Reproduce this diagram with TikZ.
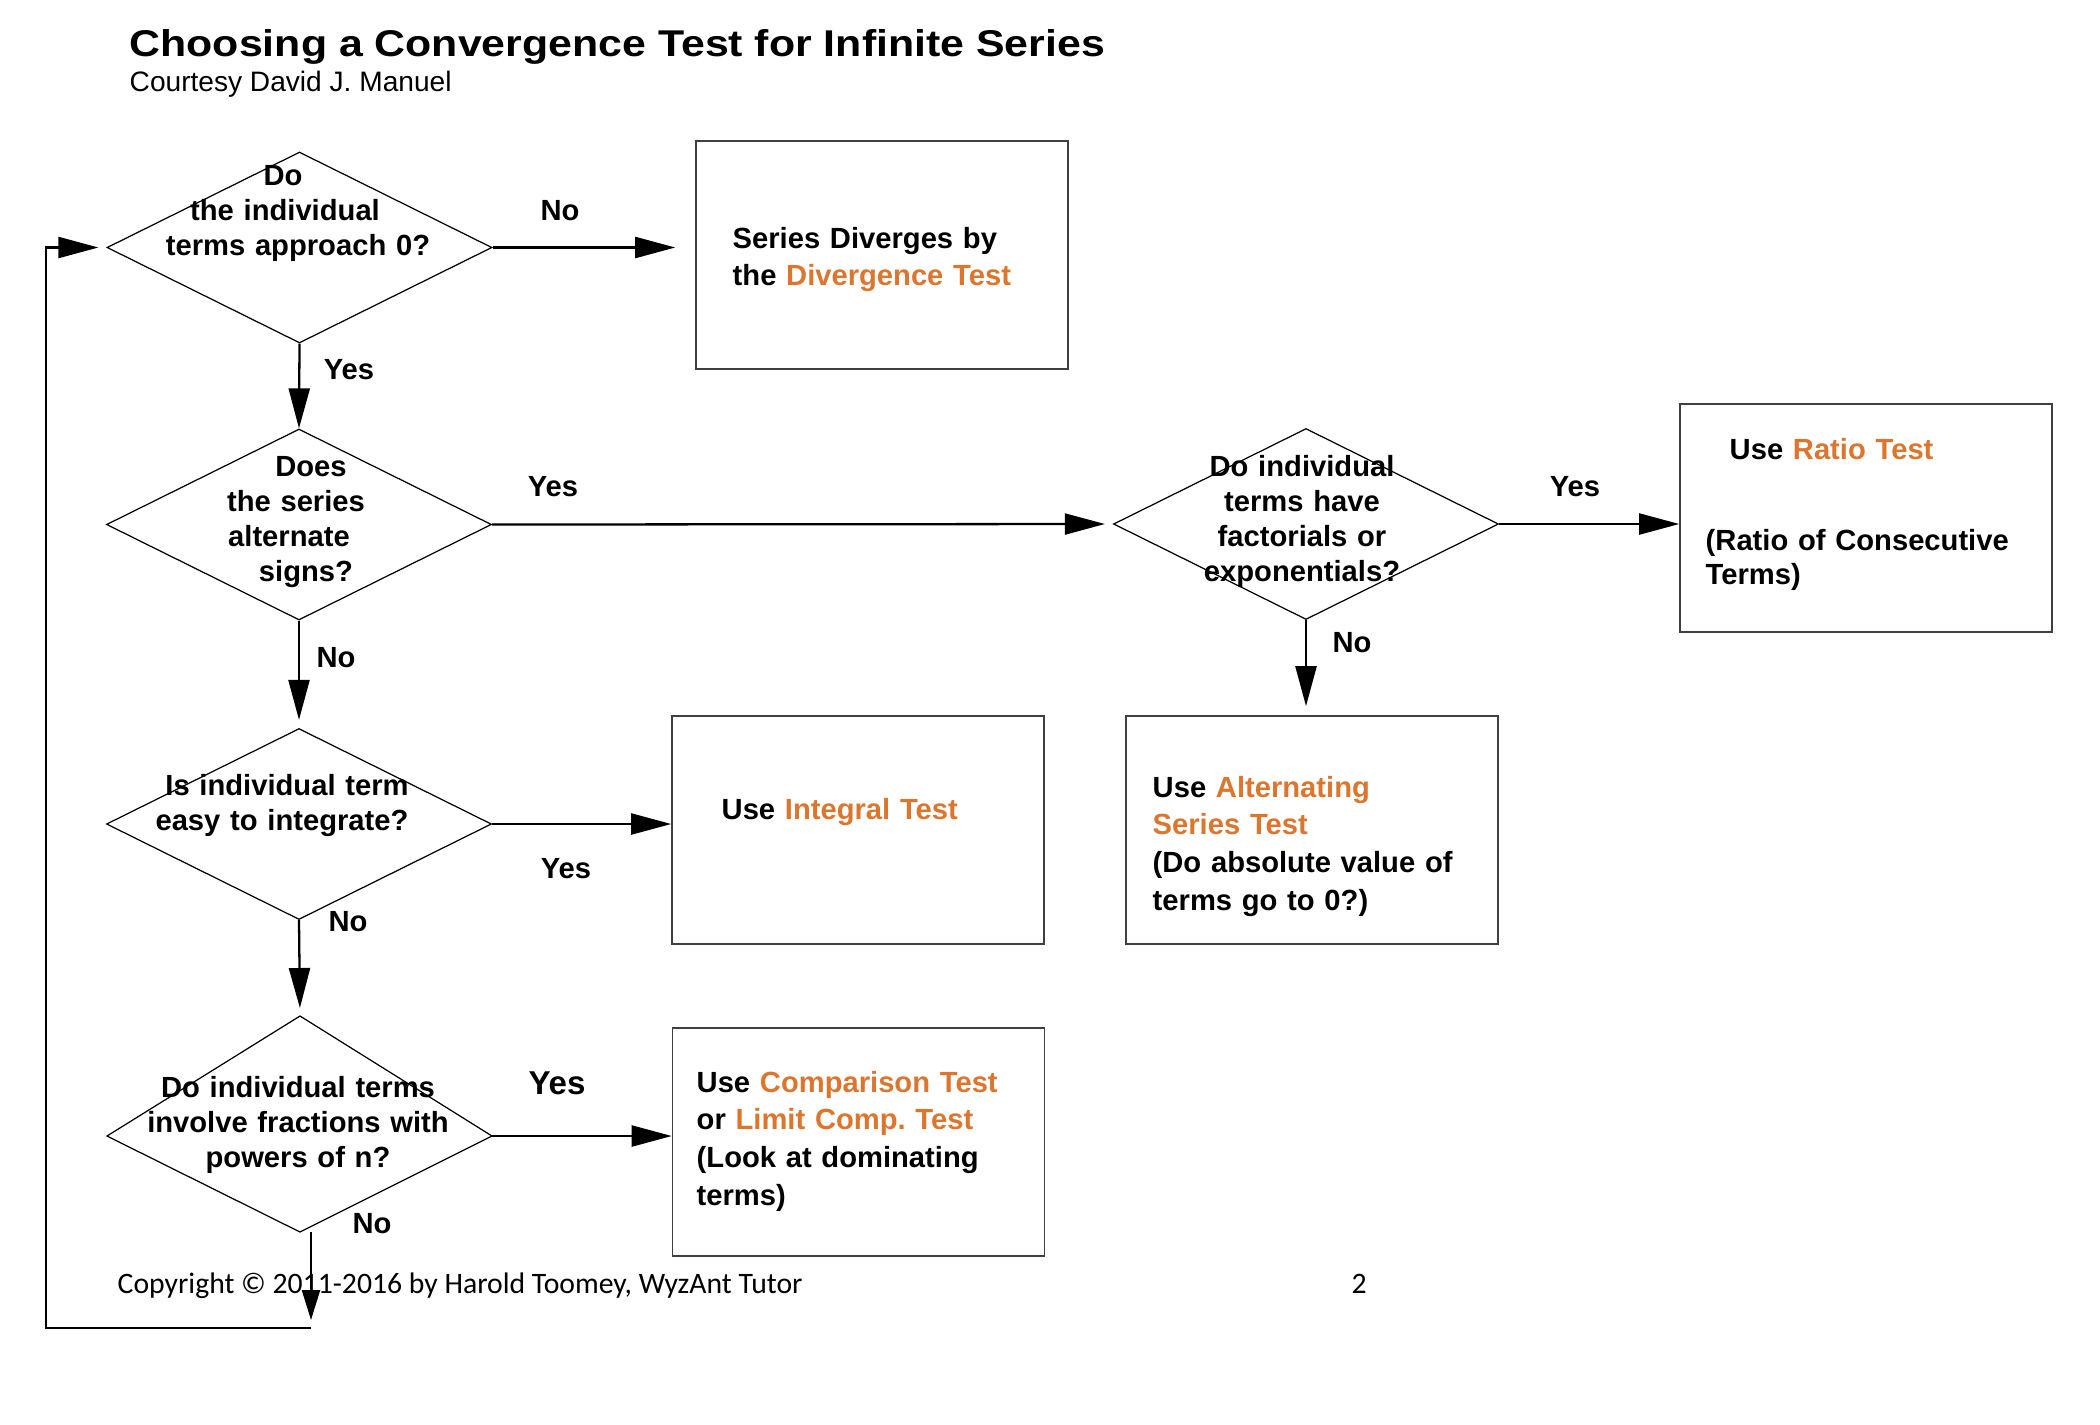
\documentclass[tikz,border=0pt]{standalone}
\usepackage{fontspec}
\setmainfont{Liberation Sans}
\newfontfamily\footfont{Carlito}
\usepackage{graphicx}
\usepackage{tikz}
\usetikzlibrary{arrows.meta}
\usetikzlibrary{shapes.geometric}

\definecolor{testorange}{RGB}{220,118,47}
\newcommand{\testname}[1]{\textcolor{testorange}{#1}}

\begin{document}
\begin{tikzpicture}[x=0.1mm, y=-0.1mm]
    \tikzset{decision/.style = {shape=diamond, draw, line width=0.35pt, minimum width=38.5mm, minimum height=19.1mm, inner sep=0}}
    \tikzset{result/.style = {shape=rectangle, draw=black!75, line width=0.45pt, minimum width=37.2mm, minimum height=22.8mm, inner sep=0}}
    \tikzset{dtext/.style = {anchor=base, inner sep=0, text width=42mm, align=center, font=\bfseries\fontsize{8.3}{10}\selectfont}}
    \tikzset{btext/.style = {anchor=base west, inner sep=0, text width=36mm, align=left, font=\bfseries\fontsize{8.3}{10.8}\selectfont}}
    \tikzset{answer/.style = {inner sep=0, font=\bfseries\fontsize{8.3}{10}\selectfont}}
    \tikzset{edge/.style = {-{Triangle[length=4mm,width=2.1mm]}, line width=0.65pt}}
    \tikzset{edgesmall/.style = {-{Triangle[length=3mm,width=1.8mm]}, line width=0.65pt}}

    \useasboundingbox (0,0) rectangle (2100,1424);

    % title
    \node[anchor=base west, inner sep=0] (title) at (129,56) {\scalebox{1.15}[1]{\bfseries\fontsize{10.6}{12}\selectfont Choosing a Convergence Test for Infinite Series}};
    \node[anchor=base west, inner sep=0, font=\fontsize{8}{10}\selectfont] (courtesy) at (129,91) {Courtesy David J. Manuel};
    \node[anchor=base west, inner sep=0, font=\footfont\fontsize{8.45}{10}\selectfont] (copyright) at (117,1293) {Copyright © 2011-2016 by Harold Toomey, WyzAnt Tutor};
    \node[anchor=base west, inner sep=0, font=\footfont\fontsize{8.45}{10}\selectfont] (page) at (1351,1293) {2};

    % questions
    \node[decision] (d1) at (299.5,247.5) {};
    \node[decision] (d2) at (299,524.5) {};
    \node[decision] (d3) at (1306,524) {};
    \node[decision] (d4) at (299,824) {};
    \coordinate (d5t) at (300,1016);
    \coordinate (d5r) at (492,1136);
    \coordinate (d5b) at (300,1232);
    \coordinate (d5l) at (107,1136);
    \draw[line width=0.35pt] (d5t) -- (d5r) -- (d5b) -- (d5l) -- cycle;

    \node[dtext] (q1) at (288,185) {Do\kern1mm\\the individual\kern0.6mm\\\hspace*{2mm}terms approach 0?};
    \node[dtext] (q2) at (296,476) {\hspace*{3mm}Does\\the series\\alternate\kern1.4mm\\\hspace*{2mm}signs?};
    \node[dtext] (q3) at (1302,476) {Do individual\\terms have\\factorials or\\exponentials?};
    \node[dtext] (q4) at (287,795) {Is individual term\\easy to integrate?\kern1mm};
    \node[dtext] (q5) at (298,1097) {Do individual terms\\involve fractions with\\powers of n?};

    % tests
    \node[result] (bdiv) at (882,255) {};
    \node[result] (bratio) at (1866,518) {};
    \node[result] (balt) at (1312,830) {};
    \node[result] (bint) at (858,830) {};
    \node[result] (bcomp) at (858.5,1142) {};

    \node[btext] (tdiv) at (732,248) {Series Diverges by\\the \testname{Divergence Test}};
    \node[btext, font=\bfseries\fontsize{8.3}{9.6}\selectfont] (tratio) at (1705,459) {\hspace*{2.4mm}Use \testname{Ratio Test}\\[5.8mm](Ratio of Consecutive\\Terms)};
    \node[btext] (talt) at (1152,797) {Use \testname{Alternating}\\\testname{Series Test}\\(Do absolute value of\\terms go to 0?)};
    \node[btext] (tint) at (721,819) {Use \testname{Integral Test}};
    \node[btext] (tcomp) at (696,1092) {Use \testname{Comparison Test}\\or \testname{Limit Comp.\ Test}\\(Look at dominating\\terms)};

    % answers
    \node[answer] (n1) at (560,211) {No};
    \node[answer] (y1) at (349,370) {Yes};
    \node[answer] (y2) at (553,487) {Yes};
    \node[answer] (n2) at (336,658) {No};
    \node[answer] (y3) at (1575,487) {Yes};
    \node[answer] (n3) at (1352,643) {No};
    \node[answer] (y4) at (566,869) {Yes};
    \node[answer] (n4) at (348,922) {No};
    \node[answer, font=\bfseries\fontsize{9.4}{11}\selectfont] (y5) at (557,1083) {Yes};
    \node[answer] (n5) at (372,1224) {No};

    % edges
    \coordinate (drop) at (311,1232);
    \coordinate (dropend) at (311,1320);
    \coordinate (loopr) at (311,1328);
    \coordinate (loopl) at (46,1328);
    \draw[edge, shorten >=2mm] (d1.east) -- (d1.east -| bdiv.west);
    \draw[edge] (d1.south) -- (d2.north);
    \draw[edge, shorten >=0.8mm] (d2.east) -- (d3.west);
    \draw[edge] (d3.east) -- (d3.east -| bratio.west);
    \draw[edge, shorten >=0.9mm] (d3.south) -- (d3.south |- balt.north);
    \draw[edge, shorten >=0.8mm] (d2.south) -- (d4.north);
    \draw[edge] (d4.east) -- (d4.east -| bint.west);
    \draw[edge, shorten >=0.8mm] (d4.south) -- (d5t);
    \draw[edge] (d5r) -- (d5r -| bcomp.west);
    \draw[edgesmall] (drop) -- (dropend);
    \draw[edge, shorten >=0.8mm] (loopr) -- (loopl) |- (d1.west);
\end{tikzpicture}
\end{document}
